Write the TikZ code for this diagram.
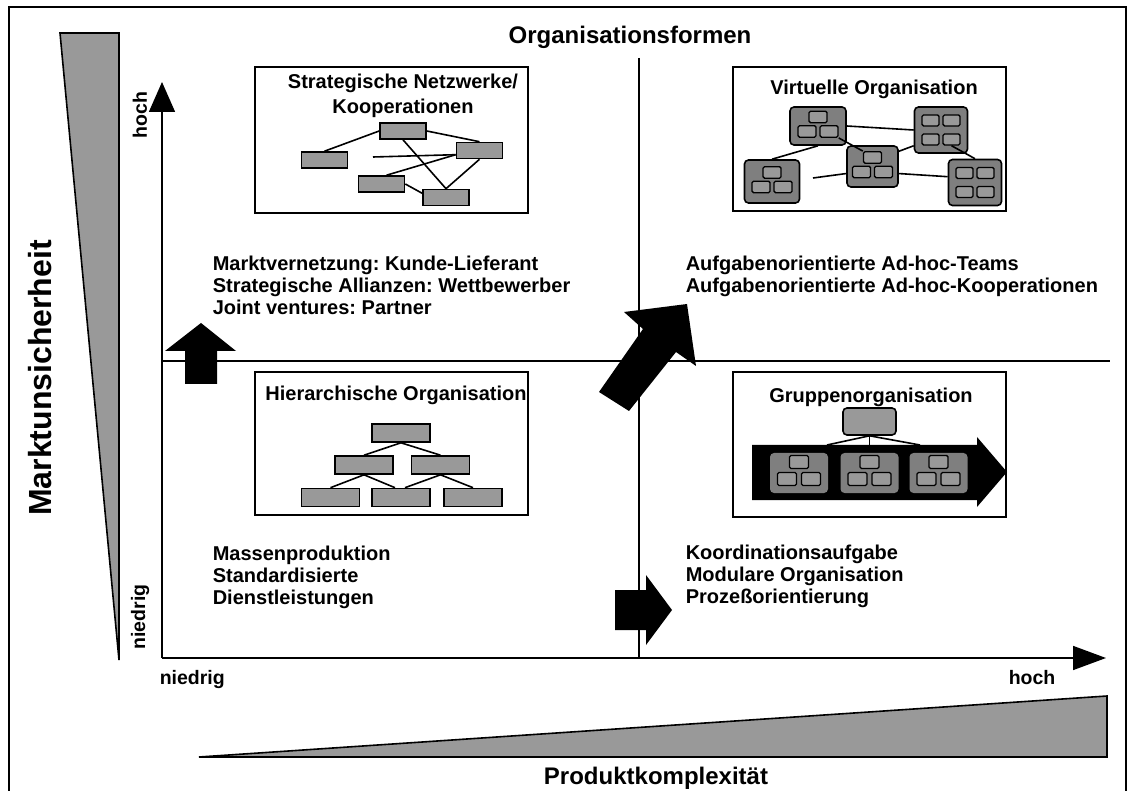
\documentclass[tikz,border=0pt]{standalone}
\usepackage{fontspec}
\setmainfont{Liberation Sans}
\usepackage{tikz}
\usetikzlibrary{arrows.meta, positioning}
\definecolor{boxgray}{HTML}{999999}
\definecolor{clustergray}{HTML}{7F7F7F}
\frenchspacing

\begin{document}
\begin{tikzpicture}[
  x=1pt, y=-1pt, line width=1.6pt,
  orgbox/.style={draw, line width=1.8pt},
  unit/.style={draw, fill=boxgray, inner sep=0pt, minimum width=46pt, minimum height=16pt},
  level/.style={unit, minimum width=58pt, minimum height=18pt},
  cluster/.style={draw, fill=clustergray, rounded corners=4pt, inner sep=0pt},
  minibox/.style={draw, fill=boxgray, rounded corners=1.5pt, inner sep=0pt,
    line width=1.4pt, minimum width=18pt, minimum height=11.5pt},
  body/.style={font=\fontsize{20}{22}\selectfont\bfseries, align=left, inner sep=0pt, anchor=north west},
  boxtitle/.style={font=\fontsize{20}{24.7}\selectfont\bfseries, align=center, inner sep=0pt},
  tick/.style={font=\fontsize{19.5}{22}\selectfont\bfseries, inner sep=0pt},
  axistitle/.style={font=\fontsize{24}{28}\selectfont\bfseries, inner sep=0pt}
]
\useasboundingbox (0,0) rectangle (1133,791);

% Frame and titles
\draw (9,7) rectangle (1126,800);
\node[axistitle, anchor=base] (title) at (630,44) {Organisationsformen};
\node[axistitle, font=\fontsize{32}{36}\selectfont\bfseries, rotate=90] (ytitle) at (40,378) {Marktunsicherheit};
\node[axistitle, anchor=base] (xtitle) at (656,784) {Produktkomplexität};

% Wedges
\draw[fill=boxgray] (60,33) -- (119,33) -- (119,660) -- cycle;
\draw[fill=boxgray] (199,757) -- (1107,757) -- (1107,696) -- cycle;

% Axes and quadrants
\coordinate (origin) at (162,658);
\coordinate (ytip) at (162,82);
\coordinate (xtip) at (1106,658);
\draw (162,361) -- (1110,361);
\draw (639,58) -- (639,658);
\draw[-{Triangle[length=30pt,width=26pt]}] (origin) -- (ytip);
\draw[-{Triangle[length=33pt,width=24pt]}] (origin) -- (xtip);

\node[tick, rotate=90] (yhigh) at (140,115) {hoch};
\node[tick, rotate=90] (ylow) at (140,617) {niedrig};
\node[tick, anchor=base west] (xlow) at (159,684) {niedrig};
\node[tick, anchor=base west] (xhigh) at (1008,684) {hoch};

% Block arrows
\fill (185,384) -- (185,351) -- (165,351) -- (201,323) -- (236,351) -- (217,351) -- (217,384) -- cycle;
\fill (615,590) -- (646,590) -- (646,575) -- (672,610) -- (646,645) -- (646,630) -- (615,630) -- cycle;
\fill (599,392) -- (643,329) -- (624,312) -- (687,304) -- (696,366) -- (676,352) -- (629,411) -- cycle;

% Quadrant texts
\node[body] (q1) at (212,255) {Marktvernetzung: Kunde-Lieferant\\Strategische Allianzen: Wettbewerber\\Joint ventures: Partner};
\node[body] (q2) at (685,255) {Aufgabenorientierte Ad-hoc-Teams\\Aufgabenorientierte Ad-hoc-Kooperationen};
\node[body] (q3) at (212,545) {Massenproduktion\\Standardisierte\\Dienstleistungen};
\node[body] (q4) at (685,544) {Koordinationsaufgabe\\Modulare Organisation\\Prozeßorientierung};

% Strategische Netzwerke
\draw[orgbox] (255,67) rectangle (528,213);
\node[boxtitle] (nettitle) at (403,96) {Strategische Netzwerke/\\Kooperationen};
\node[unit] (n1) at (403,131) {};
\node[unit] (n2) at (324.5,160) {};
\node[unit] (n3) at (479.5,150.5) {};
\node[unit] (n4) at (381.5,184) {};
\node[unit] (n5) at (446,197.5) {};
\coordinate (loose) at (373,157);
\draw (n2.north) -- (n1.west);
\draw (n1.east) -- (n3.north);
\draw (n1.south) -- (n5.north);
\draw (n3.south) -- (n5.north);
\draw (loose) -- (n3.190);
\draw (n4.60) -- (n3.190);
\draw (n4.east) -- (n5.170);

% Virtuelle Organisation
\draw[orgbox] (733,67) rectangle (1006,211);
\node[boxtitle] (virttitle) at (874,89) {Virtuelle Organisation};
\foreach \n/\cx/\cy/\w/\h in {c1/818/126/56/38, c3/872.5/166.5/51/41, c4/772/181.5/55/43}{
  \node[cluster, minimum width=\w pt, minimum height=\h pt] (\n) at (\cx,\cy) {};
  \node[minibox] (\n-a) at (\cx,\cy-9) {};
  \node[minibox] (\n-b) at (\cx-11,\cy+5.5) {};
  \node[minibox] (\n-c) at (\cx+11,\cy+5.5) {};
}
\foreach \n/\cx/\cy in {c2/941/130, c5/975/182.5}{
  \node[cluster, minimum width=53pt, minimum height=46pt] (\n) at (\cx,\cy) {};
  \node[minibox, minimum width=17pt, minimum height=11pt] (\n-a) at (\cx-10.5,\cy-9.5) {};
  \node[minibox, minimum width=17pt, minimum height=11pt] (\n-b) at (\cx+10.5,\cy-9.5) {};
  \node[minibox, minimum width=17pt, minimum height=11pt] (\n-c) at (\cx-10.5,\cy+9.5) {};
  \node[minibox, minimum width=17pt, minimum height=11pt] (\n-d) at (\cx+10.5,\cy+9.5) {};
}
\coordinate (drift) at (813,178);
\draw (c1.east) -- (c2.west);
\draw (c1.south) -- (c4.north);
\draw (c1-c.south east) -- (c3-a.north west);
\draw (c3.30) -- (c2.210);
\draw (drift) -- (c3.195);
\draw (c3.345) -- (c5.168);
\draw (c2-d.south) -- (c5.north);

% Hierarchische Organisation
\draw[orgbox] (255,372) rectangle (528,515);
\node[boxtitle] (hiertitle) at (396,395) {Hierarchische Organisation};
\node[level] (h1) at (401,433) {};
\node[level] (h2) at (364,465) {};
\node[level] (h3) at (440.5,465) {};
\node[level] (h4) at (330.5,497.5) {};
\node[level] (h5) at (401,497.5) {};
\node[level] (h6) at (473,497.5) {};
\draw (h1.south) -- (h2.north);
\draw (h1.south) -- (h3.north);
\draw (h2.south) -- (h4.north);
\draw (h2.south) -- ([xshift=-6pt]h5.north);
\draw (h3.south) -- ([xshift=4pt]h5.north);
\draw (h3.south) -- (h6.north);

% Gruppenorganisation
\draw[orgbox] (733,372) rectangle (1006,517);
\node[boxtitle] (grptitle) at (871,397) {Gruppenorganisation};
\node[cluster, fill=boxgray, minimum width=53pt, minimum height=27pt] (lead) at (869.5,421.5) {};
\fill (752,445) -- (977,445) -- (977,437) -- (1007,472) -- (977,507) -- (977,500) -- (752,500) -- cycle;
\coordinate (b1) at (827,445);
\coordinate (b2) at (869.5,445);
\coordinate (b3) at (920,445);
\foreach \b in {b1,b2,b3}
  \draw (lead.south) -- (\b);
\foreach \n/\cx in {g1/799, g2/869.5, g3/938.5}{
  \node[cluster, draw=none, minimum width=58pt, minimum height=40pt] (\n) at (\cx,473) {};
  \node[minibox, minimum width=19pt, minimum height=13pt] (\n-a) at (\cx,462) {};
  \node[minibox, minimum width=19pt, minimum height=13pt] (\n-b) at (\cx-12,479) {};
  \node[minibox, minimum width=19pt, minimum height=13pt] (\n-c) at (\cx+12,479) {};
}

\end{tikzpicture}
\end{document}
